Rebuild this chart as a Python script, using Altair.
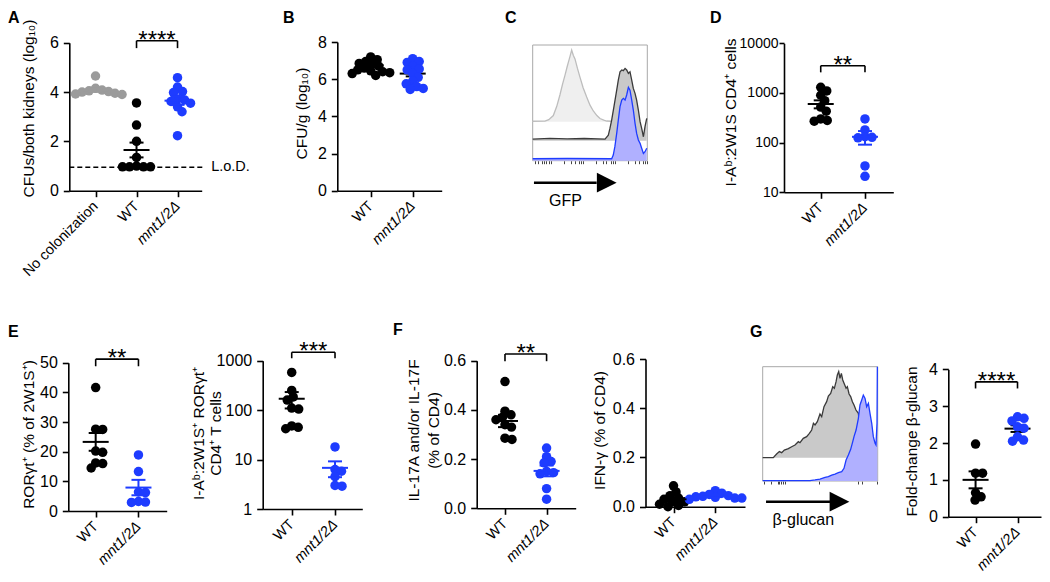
import math
import altair as alt
import pandas as pd

FONT = "Liberation Sans"
BLACK = "#000000"
BLUE = "#1E3CFF"
GREY = "#9B9B9B"
W, H, M = 1034, 566, 8

# ---------------- values ----------------
GROUPS_A = ["No colonization", "WT", "mnt1/2Δ"]
GROUPS = ["WT", "mnt1/2Δ"]

# A  CFUs / both kidneys (log10)
A_none = [4.65, 4.15, 4.08, 4.05, 4.02, 4.0, 3.95, 3.92, 3.9]
A_wt = [3.56, 2.66, 2.0, 1.35, 1.0, 0.97, 0.97, 0.97, 0.97]
A_mnt = [4.58, 4.2, 4.02, 3.98, 3.72, 3.68, 3.62, 3.55, 3.4, 3.2, 2.23]
A_mean = [4.08, 1.65, 3.65]
A_sem = [0.07, 0.3, 0.17]
A_bracket = [6.08, 5.78]
A_lod = 0.95
A_ticks = [0, 2, 4, 6]

# B  CFU/g (log10)
B_wt = [7.2, 7.05, 6.95, 6.85, 6.8, 6.7, 6.6, 6.5, 6.45, 6.4, 6.35, 6.3, 6.2]
B_mnt = [7.1, 6.95, 6.9, 6.7, 6.55, 6.5, 6.3, 6.1, 5.9, 5.75, 5.6, 5.5, 5.45]
B_mean = [6.75, 6.3]
B_sem = [0.08, 0.15]
B_ticks = [0, 2, 4, 6, 8]

# D  I-Ab:2W1S CD4+ cells
D_wt = [1300, 1100, 900, 700, 520, 430, 300, 280, 270]
D_mnt = [300, 180, 132, 128, 125, 34, 21]
D_mean = [600, 131]
D_sem = [110, 40]
D_bracket = [3540, 2600]
D_ticks = [10, 100, 1000, 10000]

# E  RORgt+ (% of 2W1S+)
E1_wt = [41.6, 27.6, 27.5, 20.2, 19.8, 16.2, 16.0, 14.5]
E1_mnt = [18.9, 13.3, 6.4, 6.2, 3.2, 3.0, 2.9]
E1_mean = [23.3, 7.9]
E1_sem = [3.0, 2.6]
E1_bracket = [51.2, 48.8]
E1_ticks = [0, 10, 20, 30, 40, 50]

# E  I-Ab:2W1S+ RORgt+ CD4+ T cells
E2_wt = [580, 250, 185, 160, 110, 105, 48, 45, 42]
E2_mnt = [18, 6.3, 5.8, 4.5, 3.0, 2.9]
E2_mean = [170, 6.8]
E2_sem = [62, 2.4]
E2_bracket = [1480, 1120]
E2_ticks = [1, 10, 100, 1000]

# F  IL-17A and/or IL-17F (% of CD4)
F1_wt = [0.515, 0.395, 0.38, 0.37, 0.36, 0.34, 0.33, 0.285, 0.28]
F1_mnt = [0.245, 0.21, 0.19, 0.185, 0.15, 0.145, 0.14, 0.08, 0.037]
F1_mean = [0.355, 0.152]
F1_sem = [0.025, 0.022]
F1_bracket = [0.627, 0.598]
F_ticks = [0.0, 0.2, 0.4, 0.6]

# F  IFN-g (% of CD4)
F2_wt = [0.085, 0.06, 0.045, 0.035, 0.03, 0.02, 0.02, 0.01, 0.005, 0.0]
F2_mnt = [0.065, 0.055, 0.05, 0.045, 0.042, 0.04, 0.038, 0.035, 0.035, 0.03]
F2_mean = [0.03, 0.043]
F2_sem = [0.008, 0.004]

# G  Fold-change beta-glucan
G2_wt = [1.97, 1.18, 1.18, 0.65, 0.54, 0.45]
G2_mnt = [2.71, 2.67, 2.6, 2.44, 2.4, 2.17, 2.08, 2.05]
G2_mean = [1.0, 2.39]
G2_sem = [0.23, 0.09]
G2_bracket = [3.66, 3.48]
G2_ticks = [0, 1, 2, 3, 4]

# C  GFP histograms (x: channel 0-100, y: height 0-100 of the frame)
C_lg_x = [0, 10.7, 14, 18, 21, 23.8, 26, 28.2, 30, 31.1, 32.5, 34, 35.5, 36.9, 39, 41.3, 44, 47.1, 50, 52.9, 56, 58.7, 62, 64.6, 68.9]
C_lg_y = [34.1, 34.2, 35.5, 39, 47, 57, 66, 74, 81, 85, 90, 95.6, 91, 88, 80, 72, 63, 55, 48, 43, 39, 36.5, 35, 34.3, 34.1]
C_lg_base = 33.7
C_dg_x = [0, 15, 30, 45, 63.1, 66, 67.4, 68.9, 70.9, 73.3, 74.7, 76.2, 77.7, 79.1, 80.6, 82, 83.5, 84.9, 86.4, 87.8, 89.3, 90.7, 92.2, 93.7, 95.1, 96.6, 98, 99.5]
C_dg_y = [18.6, 19.3, 18.8, 19.2, 18.6, 22, 27.9, 35.1, 46.7, 61, 69.7, 76.9, 78.4, 77.8, 79.8, 78.4, 75.5, 76.9, 69.7, 62.5, 58.2, 52.4, 43.8, 33.7, 27.9, 20.7, 29.4, 36.6]
C_dg_base = 17.3
C_bl_x = [0, 30, 68.9, 70.3, 71.7, 73.3, 74.7, 76.2, 77.7, 79.1, 80.6, 82, 83.5, 84.9, 86.4, 87.8, 89.3, 90.7, 92.2, 93.7, 95.1, 96.6, 98, 99.5]
C_bl_y = [1.7, 1.9, 1.7, 4.9, 12.1, 23.6, 35.1, 46.7, 52.4, 53.9, 52.4, 56.8, 63.4, 61, 52.4, 43.8, 32.3, 23.6, 17.9, 15, 10.7, 6.3, 7.8, 10.7]
C_bl_base = 0
C_ticks = [2, 5, 8, 10, 12, 14, 16, 27, 33, 37, 40, 42, 44, 55, 61, 64, 68, 70, 72, 83, 89, 93, 96, 98, 100]
C_arrow = [1.1, 55.8, 64.6, -19.0]      # start, line end, head centre, height
C_label = ["GFP", 28.6, -35.1]

# G  beta-glucan histograms
G_gr_x = [0, 9.2, 12.1, 14.5, 16.5, 18.8, 22.3, 25.2, 28.1, 31, 32.4, 35.3, 38.2, 40.6, 42.6, 44.1, 45.5, 47.5, 49.8, 51.3, 53.3, 55.6, 57.1, 59.1, 60.9, 62.3, 63.8, 64.9, 66.1, 67.2, 68.4, 69.6, 71, 72.5, 73.6, 75.1, 76.5, 78, 79.4, 81.1, 83.2, 85.2, 86.4]
G_gr_y = [20.4, 20.4, 23.6, 25.7, 24.8, 27.1, 28.3, 30, 31.5, 34.4, 33.5, 37.3, 38.8, 41.7, 44.6, 50.5, 49, 51.9, 58.6, 56.3, 65, 69.4, 74.4, 76.7, 82.5, 81.1, 86.9, 92.7, 95.7, 89.8, 94.2, 88.4, 84.9, 81.1, 82.5, 76.1, 73.8, 69.4, 66.5, 62.1, 59.2, 38.8, 20.4]
G_gr_base = 20.4
G_bl_x = [0, 41.1, 45.5, 49.8, 54.2, 57.1, 60, 62.9, 65.8, 68.7, 70.7, 72.5, 74.5, 76.5, 78.3, 79.4, 81.2, 83.2, 84.6, 86.1, 87.5, 89, 90.4, 91.9, 93.3, 94.8, 96.2, 97.7, 98.5, 99.4, 99.7]
G_bl_y = [0.3, 0.3, 0.9, 1.7, 3.2, 3.8, 5.2, 6.1, 7.3, 8.2, 11.1, 18.4, 22.7, 27.7, 34.4, 38.8, 44.6, 54.8, 66.5, 70.9, 75.2, 72.3, 65, 67.9, 59.2, 50.5, 38.8, 33, 31.5, 50.5, 100]
G_bl_base = 0
G_ticks = [1, 7, 13, 14.5, 16, 17.5, 19, 49, 83, 86, 99]
G_arrow = [2.9, 58.5, 66.8, -18.1]
G_label = ["β-glucan", 35.3, -34.1]

# ---------------- layout (reference pixel positions) ----------------
LAY = {
    "A": dict(x0=69.3, x1=201.7, xd=(-0.64, 2.59), yt=42.7, yb=190.7, yd=(0, 6), tx=28.3, ty=108),
    "B": dict(x0=337.3, x1=441.7, xd=(-0.795, 1.69), yt=42.0, yb=190.7, yd=(0, 8), tx=301.7, ty=113),
    "D": dict(x0=784.0, x1=893.3, xd=(-0.83, 1.64), yt=43.3, yb=192.3, yd=(10, 10000), log=True,
              tx=730.5, ty=112, lfs=14, lp=1, ts=5),
    "E1": dict(x0=68.3, x1=166.7, xd=(-0.64, 1.66), yt=362.7, yb=511.0, yd=(0, 50), tx=28.3, ty=434),
    "E2": dict(x0=262.7, x1=362.3, xd=(-0.67, 1.63), yt=360.7, yb=509.0, yd=(1, 1000), log=True,
               tx=198.0, ty=433, tlh=17),
    "F1": dict(x0=476.7, x1=575.7, xd=(-0.68, 1.70), yt=360.7, yb=508.3, yd=(0, 0.6), tx=413.3, ty=430,
               tlh=20),
    "F2": dict(x0=645.5, x1=745.0, xd=(-0.67, 1.71), yt=359.0, yb=506.7, yd=(0, 0.6), tx=599.3, ty=430),
    "G2": dict(x0=948.3, x1=1041.0, xd=(-0.65, 1.56), yt=369.3, yb=516.7, yd=(0, 4), tx=911.7, ty=441),
}
BOX_C = dict(x0=532.7, x1=647.3, yt=45.0, yb=160.7)
BOX_G = dict(x0=762.7, x1=877.7, yt=366.7, yb=481.0)

AXBASE = dict(grid=False, domainColor=BLACK, tickColor=BLACK, domainWidth=1.6, tickWidth=1.6,
              labelColor=BLACK, titleColor=BLACK, labelFont=FONT, titleFont=FONT,
              titleFontWeight="normal")


def ypx(v, lay):
    d0, d1 = lay["yd"]
    if lay.get("log"):
        t = (math.log10(v) - math.log10(d0)) / (math.log10(d1) - math.log10(d0))
    else:
        t = (v - d0) / (d1 - d0)
    return lay["yb"] + t * (lay["yt"] - lay["yb"])


def xstep(lay):
    return (lay["x1"] - lay["x0"]) / (lay["xd"][1] - lay["xd"][0])


def swarm(vals, lay, diam=10.7, gap=0.62):
    """horizontal offsets (in category units) so that the dots do not pile up"""
    step = xstep(lay)
    mind = diam * gap
    cands = [0.0]
    for k in range(1, 160):
        cands += [k * 0.5, -k * 0.5]
    placed, out = [], []
    for v in vals:
        y = ypx(v, lay)
        for o in cands:
            if all((o - px) ** 2 + (y - py) ** 2 >= mind ** 2 for px, py in placed):
                break
        placed.append((o, y))
        out.append(o / step)
    return out


def scales(lay):
    xs = alt.Scale(domain=list(lay["xd"]), range=[lay["x0"] - M, lay["x1"] - M], nice=False, zero=False)
    if lay.get("log"):
        ys = alt.Scale(type="log", domain=list(lay["yd"]), range=[lay["yb"] - M, lay["yt"] - M], nice=False)
    else:
        ys = alt.Scale(domain=list(lay["yd"]), range=[lay["yb"] - M, lay["yt"] - M], nice=False, zero=False)
    return xs, ys


def dot_panel(key, labels, series, colors, means, sems, ticks, title, fmt,
              bracket=None, stars="", bar_colors=None, bars_behind=False, pre=None):
    lay = LAY[key]
    xs, ys = scales(lay)
    n = len(labels)
    step = xstep(lay)
    rows = []
    for i, (vals, col) in enumerate(zip(series, colors)):
        for v, o in zip(vals, swarm(vals, lay)):
            rows.append({"x": i + o, "y": v, "c": col})
    pts = pd.DataFrame(rows)

    lab_js = "[" + ",".join("'" + s + "'" for s in labels) + "][datum.value]"
    xaxis = alt.Axis(orient="bottom", offset=-(H - (lay["yb"] - M)), values=list(range(n)),
                     labelExpr=lab_js, labelAngle=315, labelAlign="right", labelBaseline="top",
                     labelFontSize=14.5, labelPadding=2, labelOffset=-5, tickSize=6, title=None,
                     labelFlush=False, labelOverlap=False,
                     labelFontStyle={"condition": {"test": f"datum.value == {n - 1}", "value": "italic"},
                                     "value": "normal"},
                     **AXBASE)
    ykw = dict(orient="left", offset=-(lay["x0"] - M), values=ticks, title=title,
               tickSize=lay.get("ts", 6), labelPadding=lay.get("lp", 5),
               labelFontSize=lay.get("lfs", 16), titleFontSize=15.5, titleAngle=270,
               titleX=lay["tx"] - lay["x0"], titleY=lay["ty"] - M,
               titleAlign="center", titleBaseline="middle", titleLineHeight=lay.get("tlh", 19),
               labelFlush=False, labelOverlap=False, **AXBASE)
    if fmt:
        ykw["format"] = fmt
    yaxis = alt.Axis(**ykw)

    points = alt.Chart(pts).mark_circle(size=90, opacity=1).encode(
        x=alt.X("x:Q", scale=xs, axis=xaxis),
        y=alt.Y("y:Q", scale=ys, axis=yaxis),
        color=alt.Color("c:N", scale=None),
    )

    mh, ch = 13.0 / step, 7.0 / step
    bcols = bar_colors if bar_colors else colors
    bdf = pd.DataFrame({
        "x": list(range(n)),
        "xl": [i - mh for i in range(n)], "xr": [i + mh for i in range(n)],
        "cl": [i - ch for i in range(n)], "cr": [i + ch for i in range(n)],
        "m": means, "lo": [m - s for m, s in zip(means, sems)], "hi": [m + s for m, s in zip(means, sems)],
        "c": bcols,
    })
    bb = alt.Chart(bdf)
    col = alt.Color("c:N", scale=None)
    bars = [
        bb.mark_rule(strokeWidth=2).encode(x=alt.X("xl:Q", scale=xs, axis=None), x2="xr:Q",
                                           y=alt.Y("m:Q", scale=ys, axis=None), color=col),
        bb.mark_rule(strokeWidth=2).encode(x=alt.X("x:Q", scale=xs, axis=None),
                                           y=alt.Y("lo:Q", scale=ys, axis=None), y2="hi:Q", color=col),
        bb.mark_rule(strokeWidth=2).encode(x=alt.X("cl:Q", scale=xs, axis=None), x2="cr:Q",
                                           y=alt.Y("hi:Q", scale=ys, axis=None), color=col),
        bb.mark_rule(strokeWidth=2).encode(x=alt.X("cl:Q", scale=xs, axis=None), x2="cr:Q",
                                           y=alt.Y("lo:Q", scale=ys, axis=None), color=col),
    ]
    layers = list(pre(xs, ys)) if pre else []
    if bars_behind:
        layers += bars + [points]
    else:
        layers += [points] + bars
    if bracket:
        kdf = pd.DataFrame({"xa": [n - 2], "xb": [n - 1], "xm": [n - 1.5],
                            "yb": [bracket[0]], "yt": [bracket[1]], "s": [stars]})
        kb = alt.Chart(kdf)
        layers += [
            kb.mark_rule(strokeWidth=1.6, color=BLACK).encode(
                x=alt.X("xa:Q", scale=xs, axis=None), x2="xb:Q", y=alt.Y("yb:Q", scale=ys, axis=None)),
            kb.mark_rule(strokeWidth=1.6, color=BLACK).encode(
                x=alt.X("xa:Q", scale=xs, axis=None), y=alt.Y("yb:Q", scale=ys, axis=None), y2="yt:Q"),
            kb.mark_rule(strokeWidth=1.6, color=BLACK).encode(
                x=alt.X("xb:Q", scale=xs, axis=None), y=alt.Y("yb:Q", scale=ys, axis=None), y2="yt:Q"),
            kb.mark_text(font=FONT, fontSize=24, dy=7, baseline="alphabetic", align="center",
                         color=BLACK).encode(
                x=alt.X("xm:Q", scale=xs, axis=None), y=alt.Y("yb:Q", scale=ys, axis=None), text="s:N"),
        ]
    return layers


def hist_panel(box, curves, ticks, arrow, label):
    xs = alt.Scale(domain=[0, 100], range=[box["x0"] - M, box["x1"] - M], nice=False, zero=False)
    ys = alt.Scale(domain=[0, 100], range=[box["yb"] - M, box["yt"] - M], nice=False, zero=False)
    tick_axis = alt.Axis(orient="bottom", offset=-(H - (box["yb"] - M)), values=ticks, labels=False,
                         domain=False, tickSize=3, tickColor="#444444", tickWidth=1, grid=False, title=None)
    fdf = pd.DataFrame({"a": [0], "b": [100], "c": [0], "d": [100]})
    layers = [alt.Chart(fdf).mark_rect(fillOpacity=0, stroke="#A8A8A8", strokeWidth=1).encode(
        x=alt.X("a:Q", scale=xs, axis=tick_axis), x2="b:Q",
        y=alt.Y("c:Q", scale=ys, axis=None), y2="d:Q")]
    for cx, cy, base, fill, stroke in curves:
        df = pd.DataFrame({"x": cx, "y": cy, "b": [base] * len(cx)})
        ch = alt.Chart(df)
        layers.append(ch.mark_area(color=fill, opacity=1).encode(
            x=alt.X("x:Q", scale=xs, axis=None), y=alt.Y("y:Q", scale=ys, axis=None), y2="b:Q"))
        layers.append(ch.mark_line(color=stroke, strokeWidth=1.3).encode(
            x=alt.X("x:Q", scale=xs, axis=None), y=alt.Y("y:Q", scale=ys, axis=None)))
    adf = pd.DataFrame({"xa": [arrow[0]], "xb": [arrow[1]], "xh": [arrow[2]], "y": [arrow[3]],
                        "t": [label[0]], "xt": [label[1]], "yt": [label[2]]})
    ab = alt.Chart(adf)
    layers += [
        ab.mark_rule(strokeWidth=2.6, color=BLACK).encode(
            x=alt.X("xa:Q", scale=xs, axis=None), x2="xb:Q", y=alt.Y("y:Q", scale=ys, axis=None)),
        ab.mark_point(shape="M-1,-1L1,0L-1,1Z", size=390, filled=True, opacity=1, color=BLACK,
                      strokeWidth=0).encode(
            x=alt.X("xh:Q", scale=xs, axis=None), y=alt.Y("y:Q", scale=ys, axis=None)),
        ab.mark_text(font=FONT, fontSize=16, align="center", baseline="middle", color=BLACK).encode(
            x=alt.X("xt:Q", scale=xs, axis=None), y=alt.Y("yt:Q", scale=ys, axis=None), text="t:N"),
    ]
    return layers


def lod_layers(xs, ys):
    df = pd.DataFrame({"xa": [LAY["A"]["xd"][0]], "xb": [2.65], "xt": [2.82], "y": [A_lod], "t": ["L.o.D."]})
    b = alt.Chart(df)
    return [
        b.mark_rule(strokeDash=[5, 3], strokeWidth=1.5, color=BLACK).encode(
            x=alt.X("xa:Q", scale=xs, axis=None), x2="xb:Q", y=alt.Y("y:Q", scale=ys, axis=None)),
        b.mark_text(font=FONT, fontSize=14.5, align="left", baseline="middle", color=BLACK).encode(
            x=alt.X("xt:Q", scale=xs, axis=None), y=alt.Y("y:Q", scale=ys, axis=None), text="t:N"),
    ]


layers = []
layers += dot_panel("A", GROUPS_A, [A_none, A_wt, A_mnt], [GREY, BLACK, BLUE], A_mean, A_sem, A_ticks,
                    "CFUs/both kidneys (log₁₀)", None, A_bracket, "****", pre=lod_layers)
layers += dot_panel("B", GROUPS, [B_wt, B_mnt], [BLACK, BLUE], B_mean, B_sem, B_ticks,
                    "CFU/g (log₁₀)", None, bar_colors=[BLACK, BLACK], bars_behind=True)
layers += hist_panel(BOX_C, [(C_lg_x, C_lg_y, C_lg_base, "#EFEFEF", "#BDBDBD"),
                             (C_dg_x, C_dg_y, C_dg_base, "#C9C9C9", "#3A3A3A"),
                             (C_bl_x, C_bl_y, C_bl_base, "#B0B0FF", BLUE)], C_ticks, C_arrow, C_label)
layers += dot_panel("D", GROUPS, [D_wt, D_mnt], [BLACK, BLUE], D_mean, D_sem, D_ticks,
                    "I-Aᵇ:2W1S CD4⁺ cells", "d", D_bracket, "**")
layers += dot_panel("E1", GROUPS, [E1_wt, E1_mnt], [BLACK, BLUE], E1_mean, E1_sem, E1_ticks,
                    "RORγt⁺ (% of 2W1S⁺)", None, E1_bracket, "**")
layers += dot_panel("E2", GROUPS, [E2_wt, E2_mnt], [BLACK, BLUE], E2_mean, E2_sem, E2_ticks,
                    ["I-Aᵇ:2W1S⁺ RORγt⁺", "CD4⁺ T cells"], "d", E2_bracket, "***")
layers += dot_panel("F1", GROUPS, [F1_wt, F1_mnt], [BLACK, BLUE], F1_mean, F1_sem, F_ticks,
                    ["IL-17A and/or IL-17F", "(% of CD4)"], ".1f", F1_bracket, "**")
layers += dot_panel("F2", GROUPS, [F2_wt, F2_mnt], [BLACK, BLUE], F2_mean, F2_sem, F_ticks,
                    "IFN-γ (% of CD4)", ".1f")
layers += hist_panel(BOX_G, [(G_gr_x, G_gr_y, G_gr_base, "#C9C9C9", "#3A3A3A"),
                             (G_bl_x, G_bl_y, G_bl_base, "#B0B0FF", BLUE)], G_ticks, G_arrow, G_label)
layers += dot_panel("G2", GROUPS, [G2_wt, G2_mnt], [BLACK, BLUE], G2_mean, G2_sem, G2_ticks,
                    "Fold-change β-glucan", None, G2_bracket, "****", bar_colors=[BLACK, BLACK],
                    bars_behind=True)

letters = [("A", 0, 15), ("B", 275, 15), ("C", 497, 15), ("D", 702, 15),
           ("E", 0, 329), ("F", 385, 327), ("G", 742, 329)]
for t, lx, ly in letters:
    layers.append(alt.Chart(pd.DataFrame({"t": [t]})).mark_text(
        font=FONT, fontSize=16, fontWeight="bold", align="left", baseline="alphabetic", color=BLACK
    ).encode(x=alt.value(lx), y=alt.value(ly), text="t:N"))

chart = (
    alt.layer(*layers)
    .resolve_scale(x="independent", y="independent")
    .properties(width=W, height=H, autosize=alt.AutoSizeParams(type="none"), padding=0,
                background="white")
    .configure_view(strokeWidth=0)
)

chart.save("out.html", embed_options={"renderer": "svg", "actions": False})
